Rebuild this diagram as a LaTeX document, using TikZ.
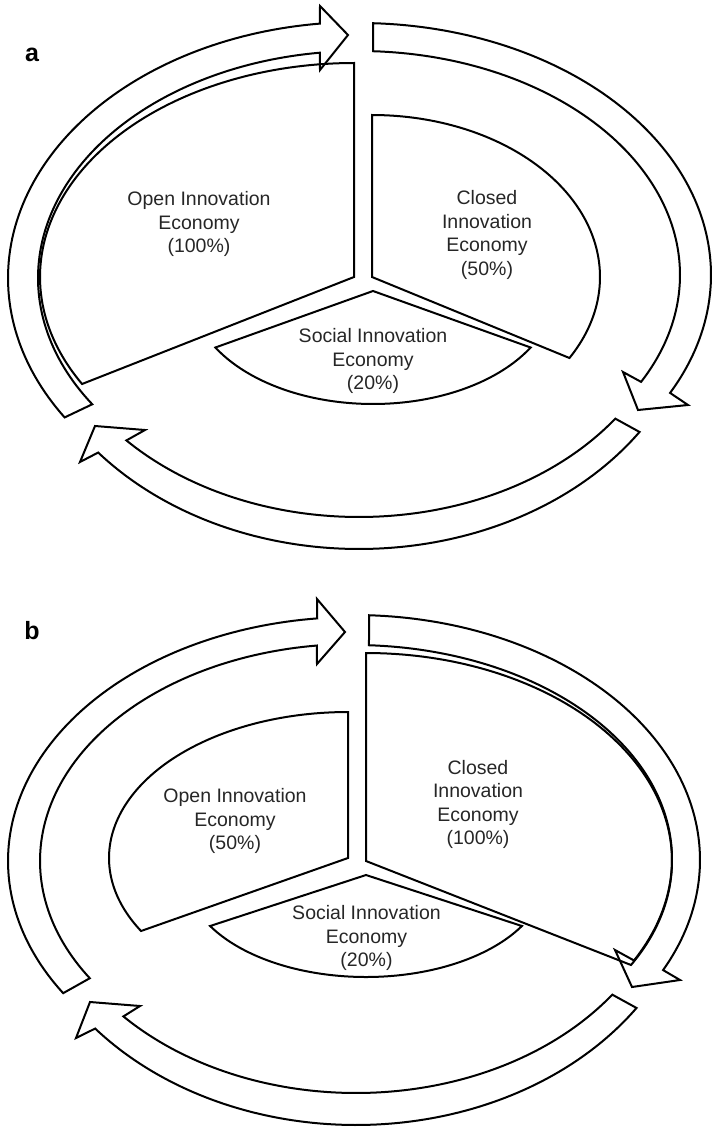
\documentclass[tikz,border=0pt]{standalone}
\usepackage{fontspec}
\setmainfont{Liberation Sans}
\begin{document}
\begin{tikzpicture}[x=1pt,y=-1pt,
  outline/.style={draw=black, line width=2pt, line join=miter, miter limit=4},
  txt/.style={font=\fontsize{19.5}{23.5}\selectfont, align=center, text=black!85, inner sep=0pt},
  panellabel/.style={font=\fontsize{25}{30}\selectfont\bfseries, inner sep=0pt}]
\useasboundingbox (0,0) rectangle (712,1129);

% ---------------- panel a ----------------
\node[panellabel] (laba) at (32,55) {a};

% curved arrow: lower left up to the top
\draw[outline] plot[domain=147:263.6,samples=90] ({359+351*cos(\x)},{278+256*sin(\x)})
  -- (320,6) -- (348,35) -- (320,70)
  -- plot[domain=263:146.2,samples=90] ({359+321*cos(\x)},{278+227*sin(\x)}) -- cycle;
% curved arrow: top down to the right
\draw[outline] plot[domain=272.3:387.9,samples=90] ({359+352*cos(\x)},{275+252*sin(\x)})
  -- (688,405) -- (638,410) -- (623,372)
  -- plot[domain=388.5:272.5,samples=90] ({359+321*cos(\x)},{275+224*sin(\x)}) -- cycle;
% curved arrow: along the bottom to the left
\draw[outline] plot[domain=34.4:140.1,samples=90] ({359+340*cos(\x)},{280+269*sin(\x)})
  -- (80,462) -- (95,426) -- (145,430)
  -- plot[domain=137.4:35.8,samples=90] ({359+316*cos(\x)},{280+237*sin(\x)}) -- cycle;

% pie slices
\draw[outline] (354,277) -- plot[domain=150:270,samples=90] ({354+314*cos(\x)},{277+214*sin(\x)}) -- cycle;
\draw[outline] (372,277) -- plot[domain=-90:30,samples=90] ({372+228*cos(\x)},{277+162*sin(\x)}) -- cycle;
\draw[outline] (373,291) -- plot[domain=30:150,samples=90] ({373+182*cos(\x)},{291+113*sin(\x)}) -- cycle;

\node[txt] (opena) at (199,224.4) {Open Innovation\\Economy\\(100\%)};
\node[txt] (closeda) at (487,235.2) {Closed\\Innovation\\Economy\\(50\%)};
\node[txt] (sociala) at (373,361.4) {Social Innovation\\Economy\\(20\%)};

% ---------------- panel b ----------------
\node[panellabel] (labb) at (32,630.5) {b};

\draw[outline] plot[domain=147.2:263.9,samples=90] ({354+346*cos(\x)},{861+244*sin(\x)})
  -- (317,599) -- (345,632) -- (317,664)
  -- plot[domain=263.2:147.3,samples=90] ({354+314*cos(\x)},{861+217*sin(\x)}) -- cycle;
\draw[outline] plot[domain=272.5:386.7,samples=90] ({354+346*cos(\x)},{860+245*sin(\x)})
  -- (680,980) -- (632,987) -- (615,950)
  -- plot[domain=388.3:272.7,samples=90] ({354+318*cos(\x)},{859+214*sin(\x)}) -- cycle;
\draw[outline] plot[domain=34.4:140.1,samples=90] ({356+340*cos(\x)},{856+269*sin(\x)})
  -- (76,1038) -- (90,1002) -- (140,1006)
  -- plot[domain=137.4:35.8,samples=90] ({356+316*cos(\x)},{856+237*sin(\x)}) -- cycle;

\draw[outline] (348,858) -- plot[domain=150:270,samples=90] ({348+239*cos(\x)},{858+146*sin(\x)}) -- cycle;
\draw[outline] (366,861) -- plot[domain=-90:30,samples=90] ({366+306*cos(\x)},{861+208*sin(\x)}) -- cycle;
\draw[outline] (366,875) -- plot[domain=30:150,samples=90] ({366+180*cos(\x)},{875+102*sin(\x)}) -- cycle;

\node[txt] (openb) at (235,821.4) {Open Innovation\\Economy\\(50\%)};
\node[txt] (closedb) at (478,804.2) {Closed\\Innovation\\Economy\\(100\%)};
\node[txt] (socialb) at (366.5,938.4) {Social Innovation\\Economy\\(20\%)};
\end{tikzpicture}
\end{document}
